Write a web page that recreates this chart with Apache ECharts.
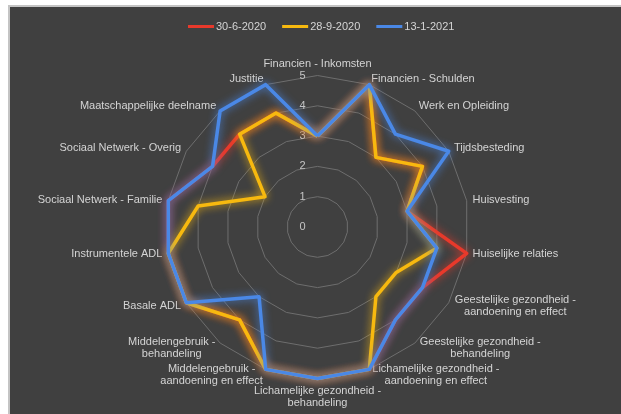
<!DOCTYPE html>
<html>
<head>
<meta charset="utf-8">
<script src="https://cdn.jsdelivr.net/npm/echarts@6/dist/echarts.min.js"></script>
<style>
html,body{margin:0;padding:0;background:#ffffff;width:621px;height:414px;overflow:hidden;}
#panel{position:absolute;left:8px;top:5px;width:611px;height:407px;background:#404040;border-left:2px solid #c4c4c4;border-top:2px solid #c4c4c4;}
#chart{position:absolute;left:0;top:0;width:621px;height:414px;}
</style>
</head>
<body>
<div id="panel"></div>
<div id="chart"></div>
<script>
var categories = [
  'Financien - Inkomsten',
  'Financien - Schulden',
  'Werk en Opleiding',
  'Tijdsbesteding',
  'Huisvesting',
  'Huiselijke relaties',
  'Geestelijke gezondheid -\naandoening en effect',
  'Geestelijke gezondheid -\nbehandeling',
  'Lichamelijke gezondheid -\naandoening en effect',
  'Lichamelijke gezondheid -\nbehandeling',
  'Middelengebruik -\naandoening en effect',
  'Middelengebruik -\nbehandeling',
  'Basale ADL',
  'Instrumentele ADL',
  'Sociaal Netwerk - Familie',
  'Sociaal Netwerk - Overig',
  'Maatschappelijke deelname',
  'Justitie'
];
var seriesNames = ['30-6-2020', '28-9-2020', '13-1-2021'];
var values2020Jun = [3,5,3,4,3,5,4,4,5,5,5,4,5,5,5,4,4,4];
var values2020Sep = [3,5,3,4,3,4,3,3,5,5,5,4,5,5,4,2,4,4];
var values2021Jan = [3,5,4,5,3,4,4,4,5,5,5,3,5,5,5,4,5,5];
var tickValues = [0,1,2,3,4,5];

var colors = ['#e8392b', '#f7b90f', '#4a88e6'];
var FONT = '"Liberation Sans", Arial, sans-serif';
var textColor = '#d4d4d4';

// ECharts radar runs counter-clockwise; the reference runs clockwise.
var order = [0];
for (var k = categories.length - 1; k >= 1; k--) order.push(k);
function reorder(arr) { return order.map(function (i) { return arr[i]; }); }

var ctx = document.createElement('canvas').getContext('2d');
ctx.font = '11px ' + FONT;
var rich = {};
categories.forEach(function (c, i) {
  if (c.indexOf('\n') >= 0) {
    var w = 0;
    c.split('\n').forEach(function (l) { w = Math.max(w, ctx.measureText(l).width); });
    rich['n' + i] = { width: Math.ceil(w) + 1, align: 'center', color: textColor, fontSize: 11, fontFamily: FONT, lineHeight: 12 };
  }
});

var chart = echarts.init(document.getElementById('chart'), null, { renderer: 'canvas' });
var cx = 317.5, cy = 227, R = 151.5;

function mkSeries(idx, vals) {
  return {
    type: 'radar',
    name: seriesNames[idx],
    symbol: 'none',
    z: 2 + idx,
    lineStyle: { color: colors[idx], width: 3.5, shadowBlur: 8, shadowColor: colors[idx] },
    itemStyle: { color: colors[idx] },
    data: [{ value: reorder(vals), name: seriesNames[idx] }]
  };
}

chart.setOption({
  backgroundColor: 'transparent',
  animation: false,
  color: colors,
  textStyle: { fontFamily: FONT },
  legend: {
    data: seriesNames,
    left: 183,
    top: 16,
    itemWidth: 26,
    itemHeight: 3,
    itemGap: 16,
    icon: 'rect',
    textStyle: { color: textColor, fontSize: 11, fontFamily: FONT, padding: [0, 0, 0, -3] }
  },
  radar: {
    center: [cx, cy],
    radius: R,
    startAngle: 90,
    splitNumber: 5,
    shape: 'polygon',
    indicator: reorder(categories).map(function (c) { return { name: c, min: 0, max: 5 }; }),
    axisName: {
      color: textColor,
      fontSize: 11,
      fontFamily: FONT,
      lineHeight: 12,
      rich: rich,
      formatter: function (name) {
        var i = categories.indexOf(name);
        if (rich['n' + i]) {
          return name.split('\n').map(function (l) { return '{n' + i + '|' + l + '}'; }).join('\n');
        }
        return name;
      }
    },
    nameGap: 6,
    axisLine: { show: false },
    axisTick: { show: false },
    axisLabel: { show: false },
    splitLine: { lineStyle: { color: '#6e6e6e', width: 1 } },
    splitArea: { show: false }
  },
  polar: { center: [cx, cy], radius: R },
  angleAxis: { show: false, startAngle: 90, min: 0, max: 360 },
  radiusAxis: {
    min: tickValues[0],
    max: tickValues[tickValues.length - 1],
    interval: 1,
    axisLine: { show: false },
    axisTick: { show: false },
    splitLine: { show: false },
    axisLabel: { show: true, color: '#c4c4c4', fontSize: 11, fontFamily: FONT, margin: 12 }
  },
  series: [
    mkSeries(0, values2020Jun),
    mkSeries(1, values2020Sep),
    mkSeries(2, values2021Jan)
  ]
});
</script>
</body>
</html>
